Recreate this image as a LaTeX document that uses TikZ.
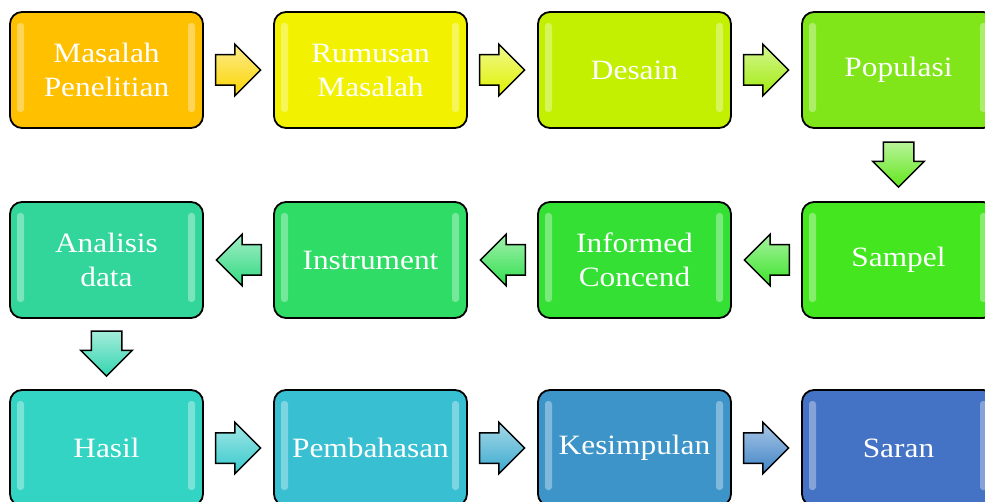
\documentclass[tikz,border=0pt]{standalone}
\usepackage{fontspec}
\setmainfont{Liberation Serif}[FakeStretch=1.12]
\usetikzlibrary{shapes.arrows}

\definecolor{cMasalah}{HTML}{FFC000}
\definecolor{cRumusan}{HTML}{F2F200}
\definecolor{cDesain}{HTML}{C3F000}
\definecolor{cPopulasi}{HTML}{80E61A}
\definecolor{cSampel}{HTML}{44E620}
\definecolor{cInformed}{HTML}{33E033}
\definecolor{cInstrument}{HTML}{2EDC66}
\definecolor{cAnalisis}{HTML}{33D69A}
\definecolor{cHasil}{HTML}{33D4C4}
\definecolor{cBahas}{HTML}{38BFD2}
\definecolor{cSimpul}{HTML}{3C94C9}
\definecolor{cSaran}{HTML}{4472C4}

\begin{document}
\begin{tikzpicture}[x=1pt,y=-1pt,
			box/.style={draw=black,line width=1.8pt,rounded corners=12pt,
				minimum width=193pt,minimum height=116pt,fill=#1,text=white,
				align=center,font=\fontsize{28}{34}\selectfont,
				path picture={
					\fill[white,opacity=.35,rounded corners=3pt]
						([shift={(7pt,-11pt)}]path picture bounding box.north west) rectangle
						([shift={(14pt,16pt)}]path picture bounding box.south west);
					\fill[white,opacity=.35,rounded corners=3pt]
						([shift={(-8pt,-11pt)}]path picture bounding box.north east) rectangle
						([shift={(-15pt,16pt)}]path picture bounding box.south east);}},
			step arrow/.style={single arrow,draw=black,line width=1.5pt,
				top color=#1!45!white,bottom color=#1,
				minimum height=45pt,single arrow head extend=10.5pt},
			right arrow/.style={step arrow=#1,inner xsep=0pt,inner ysep=14.5pt,xshift=-8pt},
			left arrow/.style={step arrow=#1,inner xsep=0pt,inner ysep=14.5pt,
				shape border rotate=180,xshift=8pt},
			down arrow/.style={step arrow=#1,inner xsep=14.5pt,inner ysep=0pt,
				shape border rotate=270,yshift=8pt}]

		\useasboundingbox (0,0) rectangle (985,502);
		\clip (0,0) rectangle (985,502);

		% first row
		\node [box=cMasalah] (masalah) at (106.5,70) {Masalah\\Penelitian};
		\node [box=cRumusan] (rumusan) at (370.5,70) {Rumusan\\Masalah};
		\node [box=cDesain] (desain) at (634.5,70) {Desain};
		\node [box=cPopulasi] (populasi) at (898.5,70) {Populasi};

		% second row
		\node [box=cSampel] (sampel) at (898.5,260) {Sampel};
		\node [box=cInformed] (informed) at (634.5,260) {Informed\\Concend};
		\node [box=cInstrument] (instrument) at (370.5,260) {Instrument};
		\node [box=cAnalisis] (analisis) at (106.5,260) {Analisis\\data};

		% third row
		\node [box=cHasil] (hasil) at (106.5,448) {Hasil};
		\node [box=cBahas] (bahas) at (370.5,448) {Pembahasan};
		\node [box=cSimpul] (simpul) at (634.5,448) {Kesimpulan};
		\node [box=cSaran] (saran) at (898.5,448) {Saran};

		% arrows
		\path (masalah) -- node [right arrow=cMasalah!60!cRumusan] {} (rumusan);
		\path (rumusan) -- node [right arrow=cRumusan!60!cDesain] {} (desain);
		\path (desain) -- node [right arrow=cDesain!50!cPopulasi] {} (populasi);
		\path (populasi) -- node [down arrow=cPopulasi!50!cSampel] {} (sampel);
		\path (sampel) -- node [left arrow=cSampel!50!cInformed] {} (informed);
		\path (informed) -- node [left arrow=cInformed!50!cInstrument] {} (instrument);
		\path (instrument) -- node [left arrow=cInstrument!50!cAnalisis] {} (analisis);
		\path (analisis) -- node [down arrow=cAnalisis!50!cHasil] {} (hasil);
		\path (hasil) -- node [right arrow=cHasil!50!cBahas] {} (bahas);
		\path (bahas) -- node [right arrow=cBahas!50!cSimpul] {} (simpul);
		\path (simpul) -- node [right arrow=cSimpul!50!cSaran] {} (saran);

\end{tikzpicture}
\end{document}
